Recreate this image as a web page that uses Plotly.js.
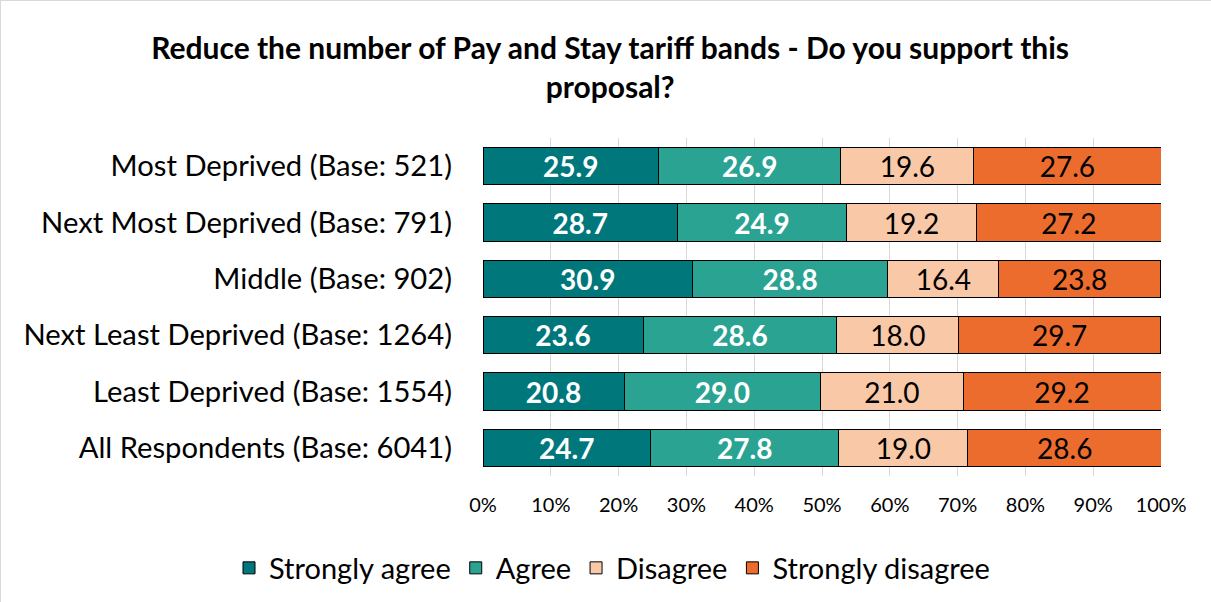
<!DOCTYPE html>
<html><head><meta charset="utf-8">
<script src="https://cdn.plot.ly/plotly-3.0.1.min.js"></script>
<style>html,body{margin:0;padding:0;background:#fff}#chart{width:1211px;height:602px;box-sizing:border-box;border:1px solid #d9d9d9}</style>
</head><body><div id="chart"></div>
<script>
const categories = ["Most Deprived (Base: 521)","Next Most Deprived (Base: 791)","Middle (Base: 902)","Next Least Deprived (Base: 1264)","Least Deprived (Base: 1554)","All Respondents (Base: 6041)"];
const stronglyAgree = [25.9,28.7,30.9,23.6,20.8,24.7];
const agree = [26.9,24.9,28.8,28.6,29.0,27.8];
const disagree = [19.6,19.2,16.4,18.0,21.0,19.0];
const stronglyDisagree = [27.6,27.2,23.8,29.7,29.2,28.6];
const seriesNames = ["Strongly agree","Agree","Disagree","Strongly disagree"];
const tickValues = [0,10,20,30,40,50,60,70,80,90,100];
const tickLabels = ["0%","10%","20%","30%","40%","50%","60%","70%","80%","90%","100%"];
const colors = ["#00777b","#2aa393","#f9c8a7","#ec6c2d"];
const labelColors = ["#ffffff","#ffffff","#000000","#000000"];
const labelBold = [true,true,false,false];
const FONT = "Lato, 'Open Sans', sans-serif";
const data = [stronglyAgree, agree, disagree, stronglyDisagree].map((vals,i)=>({
  type:"bar", orientation:"h", name:seriesNames[i], y:categories, x:vals,
  marker:{color:colors[i], line:{color:"#000000", width:1}},
  text:vals.map(v=>labelBold[i]?"<b>"+v.toFixed(1)+"</b>":v.toFixed(1)),
  texttemplate:"%{text}", textposition:"inside", insidetextanchor:"middle",
  textfont:{color:labelColors[i], size:28, family:FONT}, constraintext:"none",
  hoverinfo:"skip"
}));
const layout = {
  width:1211, height:602, barmode:"stack", bargap:0.34,
  margin:{l:482, r:51, t:137, b:127, autoexpand:false},
  paper_bgcolor:"#ffffff", plot_bgcolor:"#ffffff",
  font:{family:FONT, color:"#000000"},
  title:{text:"<b>Reduce the number of Pay and Stay tariff bands - Do you support this<br>proposal?</b>", x:0.503, xanchor:"center", yref:"container", y:1-58/602, yanchor:"middle", font:{size:30, color:"#000000", family:FONT}},
  xaxis:{tickvals:tickValues, ticktext:tickLabels, range:[0,100], showgrid:true, gridcolor:"#d9d9d9", gridwidth:1, zeroline:false, showline:false, ticks:"", tickfont:{size:20, family:FONT}, ticklabelstandoff:15, fixedrange:true},
  yaxis:{autorange:"reversed", showgrid:false, zeroline:false, showline:false, ticks:"", tickfont:{size:29.2, family:FONT}, ticklabelstandoff:30, fixedrange:true},
  legend:{orientation:"h", xref:"paper", yref:"paper", x:(228-482)/678, xanchor:"left", y:-(567-475)/338, yanchor:"middle", font:{size:29, family:FONT}, traceorder:"normal", itemwidth:30},
  showlegend:true
};
Plotly.newPlot("chart", data, layout, {displayModeBar:false, staticPlot:true});
</script></body></html>
